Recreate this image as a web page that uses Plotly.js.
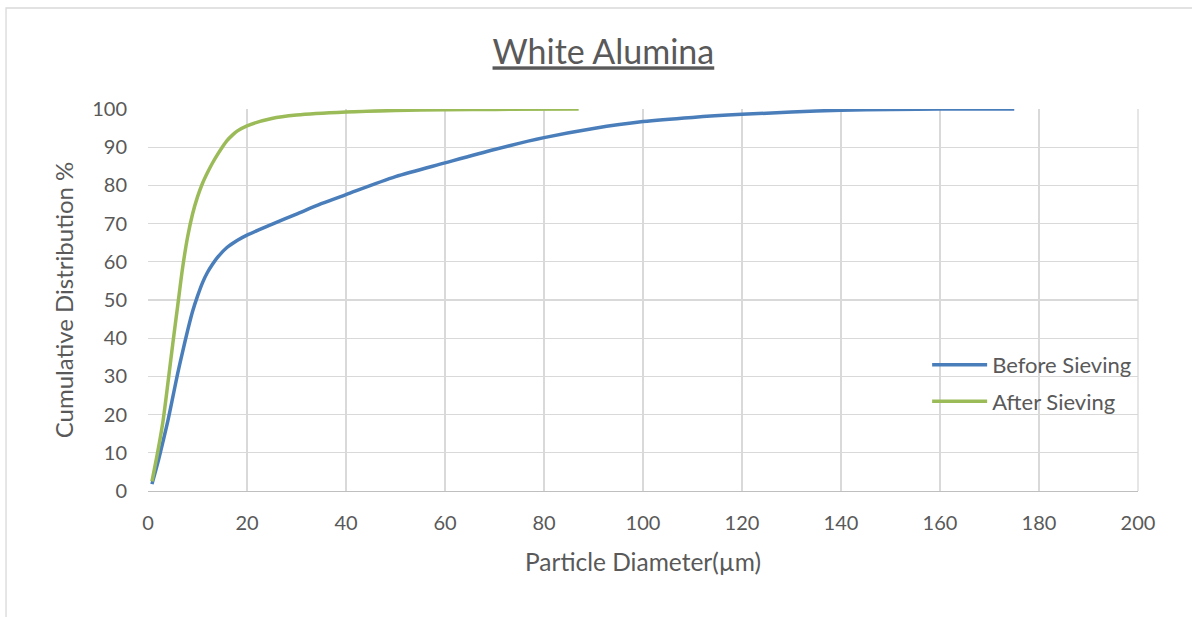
<!DOCTYPE html>
<html>
<head>
<meta charset="utf-8">
<script src="https://cdn.plot.ly/plotly-3.0.1.min.js"></script>
<style>html,body{margin:0;padding:0;background:#fff;}#chart{width:1192px;height:617px;}</style>
</head>
<body>
<div id="chart"></div>
<script>
const beforeX = [0.8, 2, 3, 4, 5, 6, 7, 8, 9, 10, 11, 12, 13, 14, 16, 18, 20, 25, 30, 35, 40, 50, 60, 70, 80, 90, 100, 110, 120, 130, 140, 150, 160, 175];
const beforeY = [1.8, 7.5, 12.8, 18.3, 24.5, 30.8, 36.5, 42, 47, 51, 54.5, 57.2, 59.3, 61.1, 63.8, 65.6, 67, 69.8, 72.5, 75.2, 77.6, 82.3, 85.9, 89.4, 92.5, 94.9, 96.7, 97.8, 98.6, 99.2, 99.7, 99.9, 100, 100];
const afterX = [0.8, 2, 3, 4, 5, 6, 7, 8, 9, 10, 11, 12, 13, 14, 15, 16, 17, 18, 20, 25, 30, 40, 50, 60, 70, 87];
const afterY = [2.5, 10.5, 18, 28, 38.5, 48.5, 58.5, 66.5, 72.5, 77, 80.5, 83.3, 85.8, 88, 90, 91.8, 93.1, 94.2, 95.6, 97.5, 98.4, 99.2, 99.6, 99.8, 99.9, 100];
const seriesNames = ["Before Sieving", "After Sieving"];
const xTicks = [0, 20, 40, 60, 80, 100, 120, 140, 160, 180, 200];
const yTicks = [0, 10, 20, 30, 40, 50, 60, 70, 80, 90, 100];

const FONT = "Lato, 'Open Sans', sans-serif";
const GREY = "#595959";

const traces = [
  {x: beforeX, y: beforeY, name: seriesNames[0], mode: "lines", type: "scatter",
   line: {color: "#4a7ebb", width: 3.5, shape: "spline", smoothing: 0.8}, legendgroup: "a"},
  {x: afterX, y: afterY, name: seriesNames[1], mode: "lines", type: "scatter",
   line: {color: "#9bbb59", width: 3.5, shape: "spline", smoothing: 0.8}, legendgroup: "b"}
];

const layout = {
  width: 1192, height: 617,
  margin: {l: 148, r: 54, t: 109, b: 126},
  paper_bgcolor: "#ffffff", plot_bgcolor: "#ffffff",
  font: {family: FONT, color: GREY, size: 19},
  title: {text: "<u>White Alumina</u>", x: 0.46, xanchor: "center", y: 0.915, yanchor: "middle",
          xref: "paper",
          font: {family: FONT, size: 34, color: GREY}},
  xaxis: {range: [0, 200], tickvals: xTicks, ticktext: xTicks.map(String),
          showgrid: true, gridcolor: "#d9d9d9", gridwidth: 1.3,
          showline: true, linecolor: "#bfbfbf", linewidth: 1.3, zeroline: false,
          ticks: "", ticklabelstandoff: 14, tickfont: {family: FONT, size: 20, color: GREY},
          title: {text: "Particle Diameter(µm)", standoff: 20, font: {family: FONT, size: 24.5, color: GREY}},
          fixedrange: true},
  yaxis: {range: [0, 100], tickvals: yTicks, ticktext: yTicks.map(String),
          showgrid: true, gridcolor: "#d9d9d9", gridwidth: 1.3,
          showline: false, zeroline: false,
          ticks: "", ticklabelstandoff: 20, tickfont: {family: FONT, size: 20, color: GREY},
          title: {text: "Cumulative Distribution %", standoff: 11, font: {family: FONT, size: 24, color: GREY}},
          fixedrange: true},
  showlegend: true,
  legend: {x: 0.787, y: 0.385, xanchor: "left", yanchor: "top", bgcolor: "rgba(0,0,0,0)",
           font: {family: FONT, size: 22, color: GREY}, itemwidth: 55, tracegroupgap: 5,
           traceorder: "grouped"},
  shapes: [
    {type: "rect", xref: "paper", yref: "paper", x0: -0.1434, x1: 1.06, y0: -0.34, y1: 1.2644,
     line: {color: "#d9d9d9", width: 1.3}, fillcolor: "rgba(0,0,0,0)", layer: "below"},
    {type: "line", xref: "paper", yref: "paper", x0: 1, x1: 1, y0: 0, y1: 1,
     line: {color: "#d9d9d9", width: 1.3}, layer: "below"}
  ]
};

Plotly.newPlot("chart", traces, layout, {displayModeBar: false, staticPlot: true});
</script>
</body>
</html>
